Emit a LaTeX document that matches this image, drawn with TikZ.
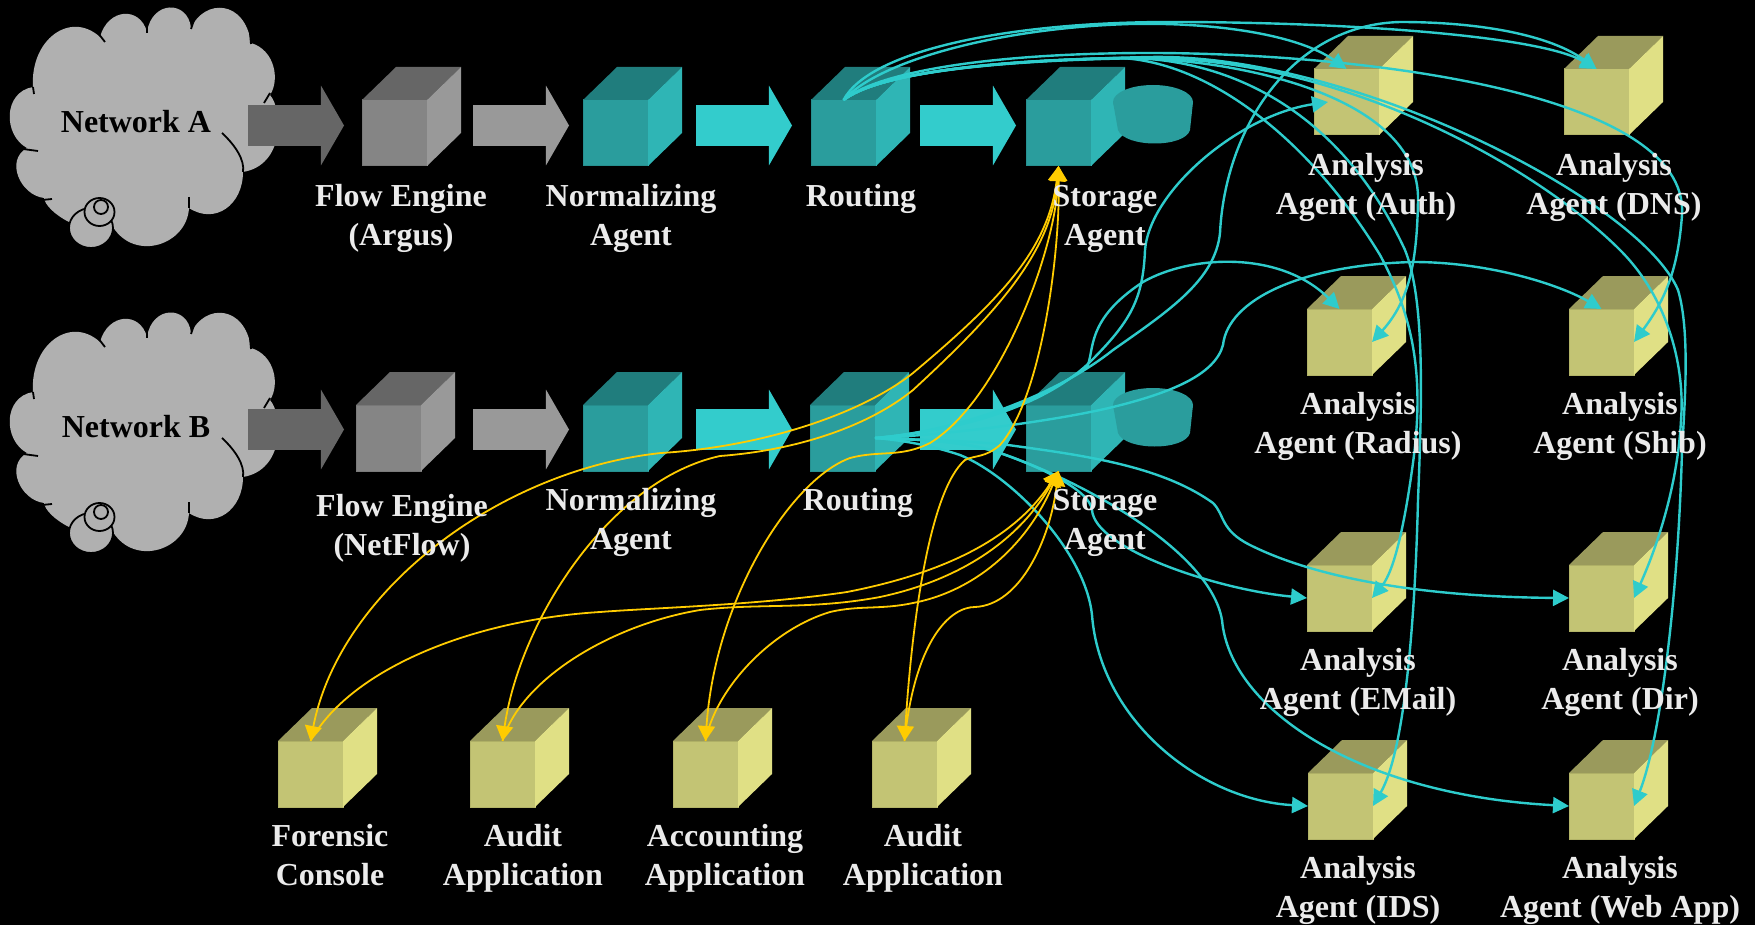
\documentclass[tikz,border=0pt]{standalone}
\usepackage{fontspec}
\setmainfont{Liberation Serif}
\usetikzlibrary{arrows.meta,shapes.arrows}

\definecolor{linkcyan}{HTML}{2ECCCC}
\definecolor{linkgold}{HTML}{FFCC00}
\definecolor{labelwhite}{HTML}{EBEBEB}
\definecolor{cloudgray}{HTML}{B0B0B0}
\definecolor{blockdark}{HTML}{666666}
\definecolor{blockgray}{HTML}{999999}
\definecolor{blockteal}{HTML}{33CCCC}
\definecolor{grayfront}{HTML}{858585}
\definecolor{graytop}{HTML}{666666}
\definecolor{grayside}{HTML}{999999}
\definecolor{grayedge}{HTML}{7A7A7A}
\definecolor{tealfront}{HTML}{2A9D9D}
\definecolor{tealtop}{HTML}{207D7D}
\definecolor{tealside}{HTML}{2FB5B5}
\definecolor{tealedge}{HTML}{269090}
\definecolor{ylwfront}{HTML}{C3C474}
\definecolor{ylwtop}{HTML}{9A9A5C}
\definecolor{ylwside}{HTML}{E0E085}
\definecolor{ylwedge}{HTML}{B3B468}

\tikzset{
  cubeface/.style={rectangle, inner sep=0pt, outer sep=0pt, minimum width=32.5pt, minimum height=33pt, anchor=north west, line width=0.5pt},
  blockarrow/.style={single arrow, draw=none, inner sep=0pt, outer sep=0pt, anchor=tail, text height=20pt, text depth=0pt, minimum width=39.5pt, minimum height=48pt, single arrow head extend=9.75pt, single arrow tip angle=120},
  boxlabel/.style={align=center, text=labelwhite, font=\fontsize{16}{19.5}\selectfont\bfseries, inner sep=0pt},
  cyanlink/.style={draw=linkcyan, line width=1.2pt, -{Triangle[length=8pt,width=8pt]}},
  goldlink/.style={draw=linkgold, line width=0.9pt, {Triangle[length=7.5pt,width=8.5pt]}-{Triangle[length=7.5pt,width=8.5pt]}},
  goldback/.style={draw=linkgold, line width=0.9pt, {Triangle[length=7.5pt,width=8.5pt]}-},
  cloudline/.style={draw=black, line width=0.9pt},
  netcloud/.pic={
    \fill[cloudgray] (100,37) .. controls (108,8) and (140,6) .. (147,32)
      .. controls (152,0) and (188,0) .. (191,28)
      .. controls (205,-2) and (245,0) .. (251,43)
      .. controls (275,50) and (280,80) .. (270,95)
      .. controls (283,110) and (285,165) .. (243,172)
      .. controls (243,205) and (215,225) .. (189,208)
      .. controls (187,245) and (135,262) .. (113,227)
      -- (69,222) .. controls (55,215) and (45,205) .. (44,198)
      .. controls (20,195) and (5,160) .. (27,148)
      .. controls (3,135) and (3,92) .. (33,87)
      .. controls (30,40) and (70,10) .. (100,37) -- cycle;
    \draw[cloudline] (98,33) -- (105,42);
    \draw[cloudline] (147,23) -- (147,33);
    \draw[cloudline] (194,20) -- (191,29);
    \draw[cloudline] (250,33) -- (251,44);
    \draw[cloudline] (270,93) -- (264,103);
    \draw[cloudline] (23,149) -- (38,151);
    \draw[cloudline] (42,200) -- (52,199);
    \draw[cloudline] (33,87) -- (34,94);
    \draw[cloudline] (189,197) -- (189,208);
    \draw[cloudline] (222,133) .. controls (235,145) and (245,160) .. (243,172);
    \filldraw[fill=cloudgray, cloudline] (91,228) ellipse (22 and 20);
    \filldraw[fill=cloudgray, cloudline] (99.5,212) ellipse (15 and 14);
    \filldraw[fill=cloudgray, cloudline] (101,207) ellipse (7 and 7);
  },
  storedisc/.pic={
    \path[left color=tealfront, middle color=tealtop, right color=tealfront] (1113,102) -- (1118,130)
      .. controls (1125,148) and (1185,148) .. (1190,130) -- (1193,102) -- cycle;
    \fill[tealfront] (1153,102) ellipse (40 and 17);
  }
}

\newcommand{\cubebox}[4]{
  \node[cubeface, fill=#4front, draw=#4edge] (#1) at (#2,#3) {};
  \fill[#4top] (#1.north west) -- ++(34,-33) -- ++(65,0) -- (#1.north east) -- cycle;
  \fill[#4side] (#1.north east) -- ++(34,-33) -- ++(0,66) -- (#1.south east) -- cycle;
  \draw[#4side, line width=0.5pt] (#1.north east) -- (#1.south east);
}

\begin{document}
\begin{tikzpicture}[x=0.5pt, y=-0.5pt]
  \path[use as bounding box, fill=black] (0,0) rectangle (1755,925);

  % clouds
  \pic at (0,0) {netcloud};
  \pic at (0,305) {netcloud};
  \node[font=\fontsize{16}{19.5}\selectfont\bfseries, text=black] (neta) at (136,122) {Network A};
  \node[font=\fontsize{16}{19.5}\selectfont\bfseries, text=black] (netb) at (136,427) {Network B};

  % cubes
  \foreach \nme/\cx/\cy in {flowa/362/100, flowb/356/405}
    {\cubebox{\nme}{\cx}{\cy}{gray}}
  \foreach \nme/\cx/\cy in {norma/583/100, routa/811/100, stoa/1026/100, normb/583/405, routb/810/405, stob/1026/405}
    {\cubebox{\nme}{\cx}{\cy}{teal}}
  \foreach \nme/\cx/\cy in {auth/1314/69, dns/1564/69, radius/1307/309, shib/1569/309, email/1307/565, dir/1569/565, ids/1308/773, webapp/1569/773, forensic/278/741, audita/470/741, acct/673/741, auditb/872/741}
    {\cubebox{\nme}{\cx}{\cy}{ylw}}

  % block arrows
  \foreach \nme/\ax/\ay/\acol in {arra/248/125.5/blockdark, arrb/473/125.5/blockgray, arrc/696/125.5/blockteal, arrd/920/125.5/blockteal, arre/248/429.5/blockdark, arrf/473/429.5/blockgray, arrg/696/429.5/blockteal, arrh/920/429.5/blockteal}
    {\node[blockarrow, fill=\acol] (\nme) at (\ax,\ay) {};}

  % discs
  \pic at (0,0) {storedisc};
  \pic at (0,303) {storedisc};

  % routing A to the agents
  \draw[cyanlink] (routa.north) .. controls (870,50) and (1010,22) .. (1170,22) .. controls (1350,22) and (1540,36) .. (dns.north);
  \draw[cyanlink] (routa.north) .. controls (880,60) and (1000,28) .. (1130,24) .. controls (1220,22) and (1300,36) .. (auth.north);
  \draw[cyanlink] (routa.north) .. controls (880,70) and (1000,53) .. (1150,53) .. controls (1350,53) and (1690,90) .. (1682,215) .. controls (1678,270) and (1665,300) .. (shib.east);
  \draw[cyanlink] (routa.north) .. controls (880,72) and (1000,60) .. (1150,57) .. controls (1350,53) and (1640,200) .. (1678,290) .. controls (1690,330) and (1685,400) .. (1682,450) .. controls (1678,600) and (1660,740) .. (webapp.east);
  \draw[cyanlink] (routa.north) .. controls (880,72) and (1000,60) .. (1150,58) .. controls (1350,60) and (1540,170) .. (1620,250) .. controls (1670,300) and (1685,370) .. (1681,420) .. controls (1678,480) and (1660,540) .. (dir.east);
  \draw[cyanlink] (routa.north) .. controls (880,72) and (1000,60) .. (1130,58) .. controls (1250,60) and (1420,100) .. (1418,200) .. controls (1417,260) and (1410,300) .. (radius.east);
  \draw[cyanlink] (routa.north) .. controls (880,72) and (1000,60) .. (1130,58) .. controls (1230,60) and (1340,110) .. (1405,250) .. controls (1425,300) and (1422,400) .. (1418,500) .. controls (1415,620) and (1405,750) .. (ids.east);
  \draw[cyanlink] (routa.north) .. controls (880,72) and (1000,60) .. (1120,58) .. controls (1210,62) and (1310,140) .. (1380,255) .. controls (1415,320) and (1425,380) .. (1412,470) .. controls (1405,520) and (1395,570) .. (email.east);

  % routing B to the agents
  \draw[cyanlink] (routb.east) .. controls (940,432) and (1020,415) .. (1087,367) .. controls (1095,350) and (1085,320) .. (1143,282) .. controls (1190,255) and (1280,250) .. (radius.north);
  \draw[cyanlink] (routb.east) .. controls (950,432) and (1040,410) .. (1090,362) .. controls (1130,322) and (1143,300) .. (1145,250) .. controls (1150,190) and (1240,115) .. ([xshift=7pt]auth.west);
  \draw[cyanlink] (routb.east) .. controls (950,432) and (1050,400) .. (1113,350) .. controls (1170,310) and (1215,280) .. (1220,233) .. controls (1225,130) and (1290,25) .. (1400,22) .. controls (1480,22) and (1550,35) .. (dns.north);
  \draw[cyanlink] (routb.east) .. controls (950,435) and (1060,420) .. (1113,407) .. controls (1170,393) and (1215,375) .. (1223,345) .. controls (1228,300) and (1300,265) .. (1413,262) .. controls (1490,262) and (1560,285) .. (shib.north);
  \draw[cyanlink] (routb.east) .. controls (920,440) and (960,440) .. (1008,445) .. controls (1080,455) and (1160,465) .. (1213,503) .. controls (1225,515) and (1220,530) .. (1250,545) .. controls (1320,580) and (1430,597) .. (dir.west);
  \draw[cyanlink] (routb.east) .. controls (920,440) and (960,440) .. (1000,453) .. controls (1080,480) and (1210,550) .. (1222,620) .. controls (1230,710) and (1360,795) .. (webapp.west);
  \draw[cyanlink] (routb.east) .. controls (920,440) and (960,440) .. (1000,453) .. controls (1040,467) and (1090,490) .. (1092,510) .. controls (1095,550) and (1220,590) .. (email.west);
  \draw[cyanlink] (routb.east) .. controls (900,440) and (930,445) .. (960,455) .. controls (1010,475) and (1085,550) .. (1092,615) .. controls (1100,720) and (1200,800) .. (ids.west);

  % storage A to the applications
  \draw[goldlink] (stoa.south) .. controls (1048,250) and (1000,300) .. (913,373) .. controls (860,415) and (760,447) .. (661,453) .. controls (500,470) and (340,590) .. (forensic.north);
  \draw[goldlink] (stoa.south) .. controls (1052,250) and (1000,310) .. (913,390) .. controls (870,425) and (800,450) .. (720,456) .. controls (610,480) and (520,620) .. (audita.north);
  \draw[goldlink] (stoa.south) .. controls (1056,250) and (1000,400) .. (930,443) .. controls (900,458) and (880,450) .. (850,458) .. controls (790,480) and (715,600) .. (acct.north);
  \draw[goldlink] (stoa.south) .. controls (1060,260) and (1040,400) .. (1000,445) .. controls (985,458) and (975,455) .. (965,460) .. controls (930,490) and (912,620) .. (auditb.north);

  % storage B to the applications
  \draw[goldback] (stob.south) .. controls (1020,530) and (960,570) .. (847,592) .. controls (760,605) and (650,608) .. (600,612) .. controls (470,620) and (350,670) .. (forensic.north);
  \draw[goldback] (stob.south) .. controls (1020,540) and (960,580) .. (880,597) .. controls (810,610) and (760,603) .. (700,610) .. controls (610,625) and (520,680) .. (audita.north);
  \draw[goldback] (stob.south) .. controls (1030,540) and (980,590) .. (913,603) .. controls (880,610) and (860,605) .. (830,612) .. controls (770,630) and (715,690) .. (acct.north);
  \draw[goldback] (stob.south) .. controls (1050,540) and (1020,605) .. (975,607) .. controls (950,607) and (915,640) .. (auditb.north);

  % labels
  \foreach \nme/\lx/\ly/\ltext in {
    lflowa/401/218.5/{Flow Engine\\(Argus)}, lnorma/631/218.5/{Normalizing\\Agent}, lrouta/861/199/{Routing}, lstoa/1105/218.5/{Storage\\Agent},
    lflowb/402/528.5/{Flow Engine\\(NetFlow)}, lnormb/631/522.5/{Normalizing\\Agent}, lroutb/858/503/{Routing}, lstob/1105/523/{Storage\\Agent},
    lauth/1366/187/{Analysis\\Agent (Auth)}, ldns/1614/187/{Analysis\\Agent (DNS)}, lradius/1358/426.5/{Analysis\\Agent (Radius)}, lshib/1620/426.5/{Analysis\\Agent (Shib)},
    lemail/1358/682/{Analysis\\Agent (EMail)}, ldir/1620/682/{Analysis\\Agent (Dir)}, lids/1358/890/{Analysis\\Agent (IDS)}, lwebapp/1620/890/{Analysis\\Agent (Web App)},
    lforensic/330/855/{Forensic\\Console}, laudita/523/858.5/{Audit\\Application}, lacct/725/858.5/{Accounting\\Application}, lauditb/923/858.5/{Audit\\Application}}
    {\node[boxlabel] (\nme) at (\lx,\ly) {\ltext};}
\end{tikzpicture}
\end{document}
